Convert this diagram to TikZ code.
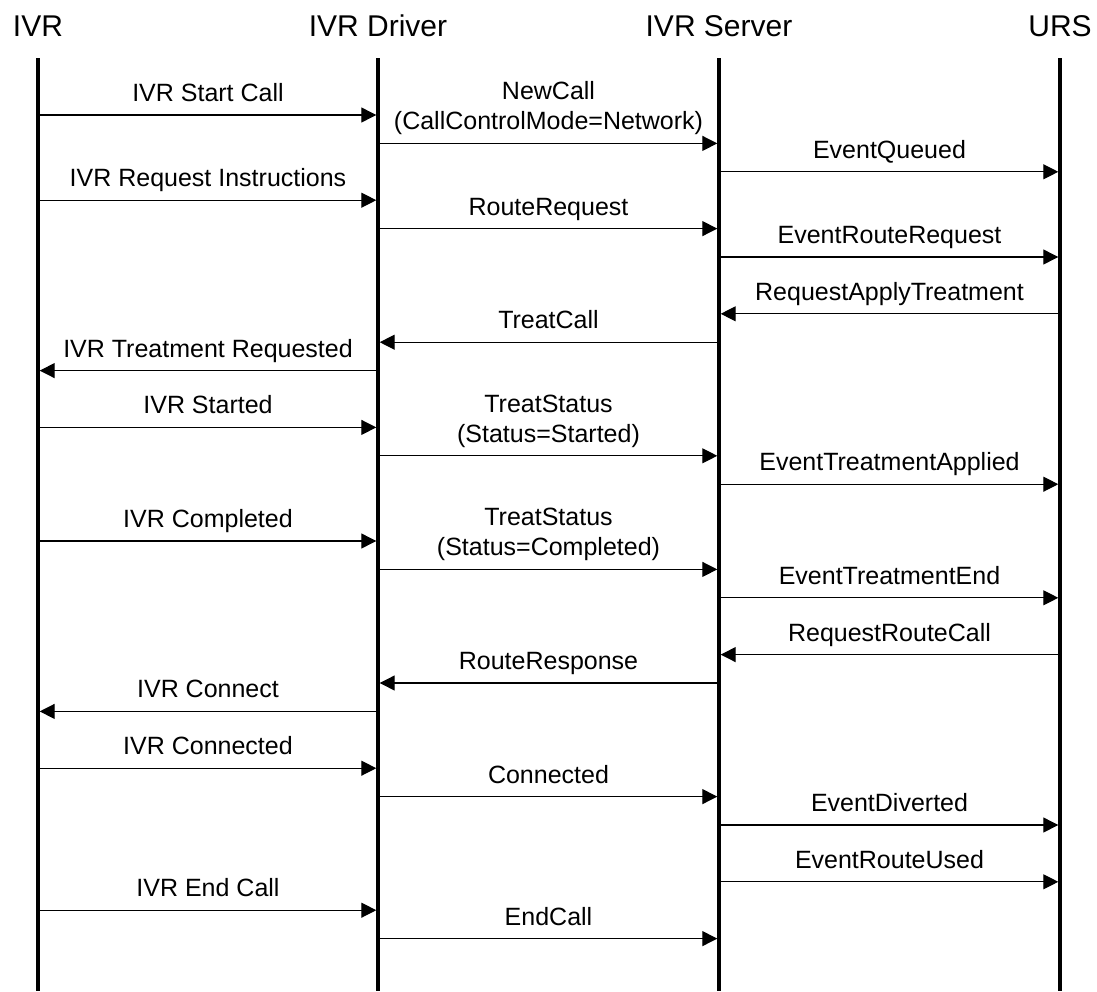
\documentclass[tikz,border=0pt]{standalone}
\usepackage{fontspec}
\setmainfont{Liberation Sans}
\usetikzlibrary{arrows.meta,calc}
\tikzset{
  head/.style ={anchor=base, inner sep=0pt, font=\fontsize{15}{18}\selectfont},
  life/.style ={line width=1.7pt},
  msg/.style  ={-{Triangle[length=7.5pt,width=7.5pt]}, line width=0.6pt,
                shorten <=0.85pt, shorten >=0.85pt},
  lbl/.style  ={above=6.5pt, inner sep=0pt, text depth=0pt, align=center,
                font=\fontsize{12.5}{15}\selectfont},
}
% one message: from lifeline, to lifeline, row, text
\newcommand{\ivrmsg}[4]{%
  \coordinate (#1-r#3) at ($(#1-top)+(0,{57+28.4*#3})$);
  \coordinate (#2-r#3) at ($(#2-top)+(0,{57+28.4*#3})$);
  \draw[msg] (#1-r#3) -- node[lbl] {#4} (#2-r#3);
}

\begin{document}
\begin{tikzpicture}[x=0.5pt, y=-0.5pt]
  \useasboundingbox (0,0) rectangle (1097,991);

  % lifeline heads
  \node[head] (ivr) at (38,36)   {IVR};
  \node[head] (drv) at (378,36)  {IVR Driver};
  \node[head] (srv) at (719,36)  {IVR Server};
  \node[head] (urs) at (1060,36) {URS};

  % lifelines
  \foreach \n/\x in {ivr/38, drv/378, srv/719, urs/1060} {
    \coordinate (\n-top) at (\x,58);
    \coordinate (\n-bot) at (\x,991);
    \draw[life] (\n-top) -- (\n-bot);
  }

  % messages
  \ivrmsg{ivr}{drv}{0}{IVR Start Call}
  \ivrmsg{drv}{srv}{1}{NewCall\\(CallControlMode=Network)}
  \ivrmsg{srv}{urs}{2}{EventQueued}
  \ivrmsg{ivr}{drv}{3}{IVR Request Instructions}
  \ivrmsg{drv}{srv}{4}{RouteRequest}
  \ivrmsg{srv}{urs}{5}{EventRouteRequest}
  \ivrmsg{urs}{srv}{7}{RequestApplyTreatment}
  \ivrmsg{srv}{drv}{8}{TreatCall}
  \ivrmsg{drv}{ivr}{9}{IVR Treatment Requested}
  \ivrmsg{ivr}{drv}{11}{IVR Started}
  \ivrmsg{drv}{srv}{12}{TreatStatus\\(Status=Started)}
  \ivrmsg{srv}{urs}{13}{EventTreatmentApplied}
  \ivrmsg{ivr}{drv}{15}{IVR Completed}
  \ivrmsg{drv}{srv}{16}{TreatStatus\\(Status=Completed)}
  \ivrmsg{srv}{urs}{17}{EventTreatmentEnd}
  \ivrmsg{urs}{srv}{19}{RequestRouteCall}
  \ivrmsg{srv}{drv}{20}{RouteResponse}
  \ivrmsg{drv}{ivr}{21}{IVR Connect}
  \ivrmsg{ivr}{drv}{23}{IVR Connected}
  \ivrmsg{drv}{srv}{24}{Connected}
  \ivrmsg{srv}{urs}{25}{EventDiverted}
  \ivrmsg{srv}{urs}{27}{EventRouteUsed}
  \ivrmsg{ivr}{drv}{28}{IVR End Call}
  \ivrmsg{drv}{srv}{29}{EndCall}
\end{tikzpicture}
\end{document}
